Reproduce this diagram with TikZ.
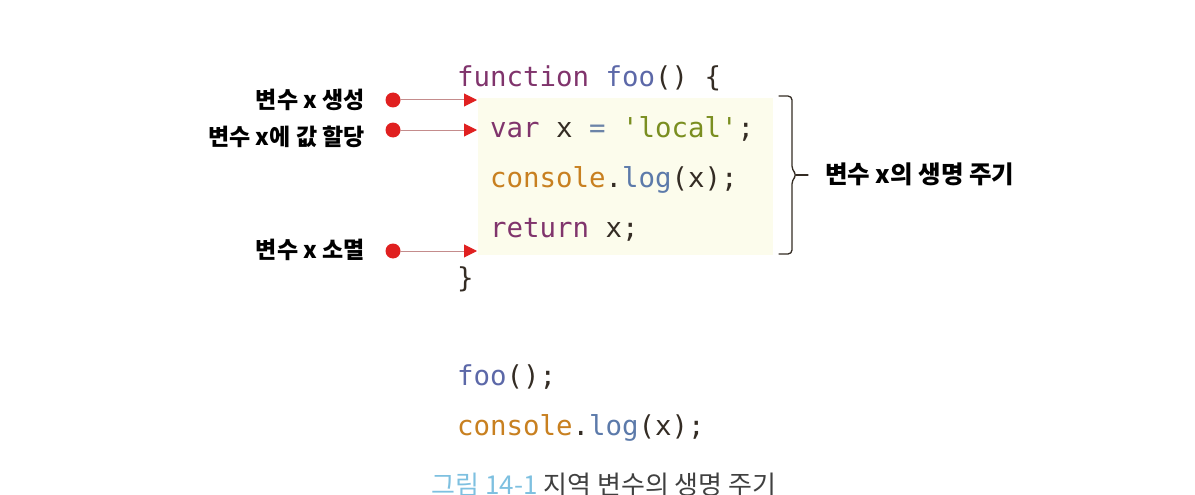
\documentclass[tikz,border=0pt]{standalone}
\usepackage{fontspec}
\setmonofont{DejaVu Sans Mono}
\newfontfamily\kofont{Noto Sans CJK KR}
\usetikzlibrary{arrows.meta}
\definecolor{kw}{RGB}{128,52,108}
\definecolor{fn}{RGB}{92,104,168}
\definecolor{str}{RGB}{122,142,32}
\definecolor{obj}{RGB}{200,128,32}
\definecolor{mth}{RGB}{92,122,170}
\definecolor{op}{RGB}{108,132,168}
\definecolor{txt}{RGB}{52,44,36}
\definecolor{codebg}{RGB}{252,252,236}
\definecolor{dotred}{RGB}{224,32,32}
\definecolor{ptrline}{RGB}{196,140,140}
\definecolor{capblue}{RGB}{126,192,224}
\definecolor{capgray}{RGB}{64,64,64}
\tikzset{
	code/.style={anchor=base west, inner sep=0pt, text=txt, font=\fontsize{27.4}{30}\selectfont\ttfamily},
	lbl/.style={anchor=base east, inner sep=0pt, font=\fontsize{23}{26}\selectfont\kofont\bfseries},
	dot/.style={circle, fill=dotred, minimum size=15pt, inner sep=0pt},
	ptr/.style={ptrline, line width=1pt, -{Triangle[length=13pt,width=13pt,color=dotred]}}
}
\begin{document}
\begin{tikzpicture}[x=1pt, y=-1pt, line join=round, line cap=round]
	\useasboundingbox (0,0) rectangle (1195,495);
	% body of foo
	\fill[codebg] (478,98) rectangle (773,255);
	\node[code] (l1) at (457,87) {{\color{kw}function} {\color{fn}foo}() \{};
	\node[code] (l2) at (490,137) {{\color{kw}var} x {\color{op}=} {\color{str}'local'};};
	\node[code] (l3) at (490,187) {{\color{obj}console}.{\color{mth}log}(x);};
	\node[code] (l4) at (490,237) {{\color{kw}return} x;};
	\node[code] (l5) at (457,287) {\}};
	\node[code] (l6) at (457,385) {{\color{fn}foo}();};
	\node[code] (l7) at (457,435) {{\color{obj}console}.{\color{mth}log}(x);};
	% markers
	\foreach \y/\b/\n/\t in {100/108/1/{변수 x 생성},130/145/2/{변수 x에 값 할당},251/258/3/{변수 x 소멸}}{
		\node[dot] (d\n) at (393,\y) {};
		\path (477,\y) coordinate (t\n);
		\draw[ptr] (d\n) -- (t\n);
		\node[lbl] (m\n) at (365,\b) {\t};
	}
	% brace
	\path (779,96) coordinate (B1) (779,254) coordinate (B2) (808,175) coordinate (B3);
	\draw[txt, line width=1.3pt, rounded corners=4pt] (B1) -- (792,96) -- (792,170) -- (797,175) -- (792,180) -- (792,254) -- (B2);
	\draw[txt, line width=1.3pt] (796,175) -- (B3);
	\node[lbl, anchor=base west, font=\fontsize{24.5}{28}\selectfont\kofont\bfseries] (life) at (825,183) {변수 x의 생명 주기};
	% caption
	\node[anchor=base, inner sep=0pt, font=\fontsize{26}{30}\selectfont\kofont] (cap) at (604,494) {{\color{capblue}그림 14-1} {\color{capgray}지역 변수의 생명 주기}};
\end{tikzpicture}
\end{document}
